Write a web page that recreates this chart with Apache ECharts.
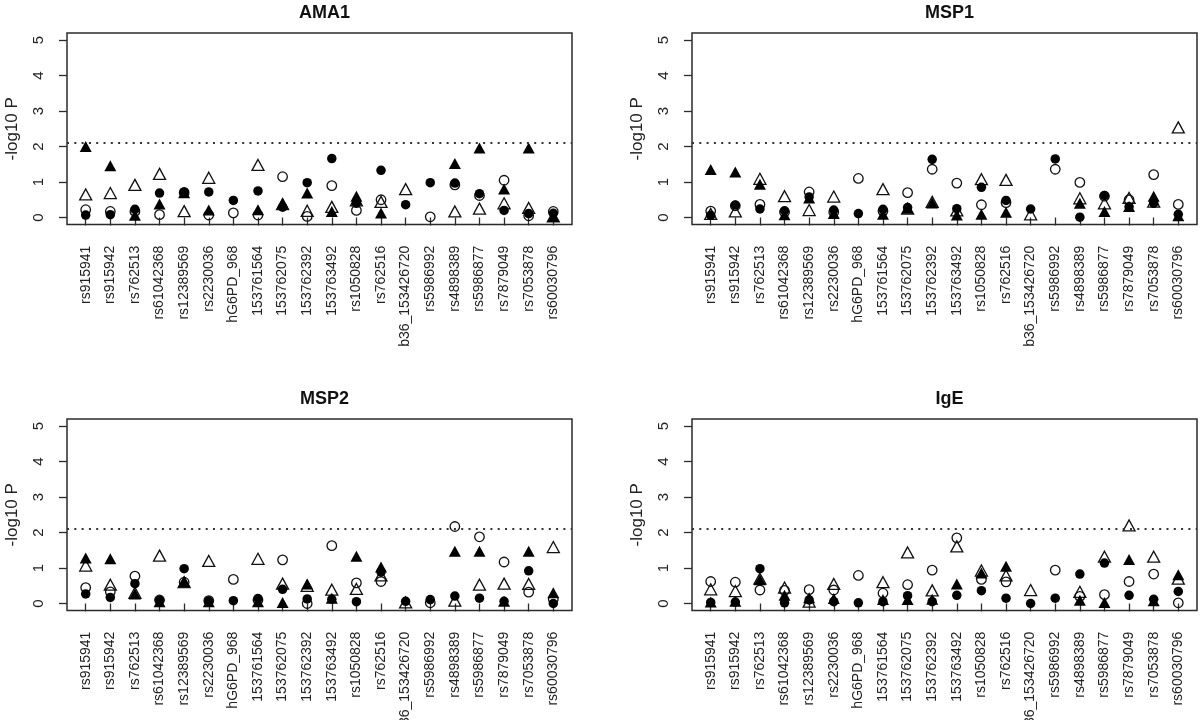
<!DOCTYPE html>
<html>
<head>
<meta charset="utf-8">
<script src="https://cdn.jsdelivr.net/npm/echarts@6/dist/echarts.min.js"></script>
<style>
html,body{margin:0;padding:0;background:#fff;}
#chart{width:1200px;height:720px;}
</style>
</head>
<body>
<div id="chart"></div>
<script>
// ---- data ----
const snps = ["rs915941","rs915942","rs762513","rs61042368","rs12389569","rs2230036","hG6PD_968","153761564","153762075","153762392","153763492","rs1050828","rs762516","b36_153426720","rs5986992","rs4898389","rs5986877","rs7879049","rs7053878","rs60030796"];
const panelTitles = ["AMA1", "MSP1", "MSP2", "IgE"];
const yTicks = [0, 1, 2, 3, 4, 5];
const threshold = 2.1;

const ama1FilledCircle   = [0.07,0.08,0.23,0.69,0.72,0.72,0.48,0.75,0.29,0.98,1.66,0.40,1.33,0.36,0.98,0.97,0.67,0.20,0.11,0.12];
const ama1OpenCircle     = [0.22,0.17,0.17,0.08,0.70,0.07,0.13,0.07,1.15,0.03,0.90,0.20,0.50,null,0.02,0.92,0.62,1.05,0.05,0.17];
const ama1FilledTriangle = [2.00,1.46,0.06,0.38,0.70,0.21,null,0.22,0.40,0.69,0.17,0.60,0.13,null,null,1.52,1.96,0.80,1.96,0.03];
const ama1OpenTriangle   = [0.65,0.69,0.92,1.23,0.18,1.12,null,1.48,0.38,0.19,0.30,0.48,0.44,0.80,null,0.17,0.25,0.40,0.27,0.03];

const msp1FilledCircle   = [0.06,0.35,0.24,0.19,0.58,0.21,0.11,0.23,0.28,1.64,0.25,0.85,0.48,0.24,1.65,0.01,0.62,0.30,0.40,0.09];
const msp1OpenCircle     = [0.18,0.33,0.37,0.15,0.72,0.15,1.10,0.18,0.70,1.36,0.97,0.36,0.42,null,1.36,0.99,0.60,0.50,1.21,0.37];
const msp1FilledTriangle = [1.35,1.28,0.94,0.08,0.55,0.11,null,0.09,0.26,0.41,0.07,0.09,0.15,null,null,0.40,0.17,0.31,0.60,0.05];
const msp1OpenTriangle   = [0.10,0.17,1.09,0.60,0.21,0.59,null,0.80,0.25,0.44,0.20,1.08,1.06,0.09,null,0.54,0.40,0.55,0.45,2.54];

const msp2FilledCircle   = [0.27,0.17,0.56,0.09,0.98,0.07,0.08,0.14,0.40,0.13,0.12,0.05,0.89,0.06,0.11,0.21,0.15,0.06,0.92,0.00];
const msp2OpenCircle     = [0.45,0.33,0.77,0.10,0.60,0.08,0.68,0.10,1.23,0.00,1.63,0.58,0.62,null,0.02,2.17,1.88,1.17,0.32,0.12];
const msp2FilledTriangle = [1.28,1.26,0.27,0.05,0.62,0.05,null,0.05,0.03,0.55,0.15,1.33,1.03,null,null,1.47,1.47,0.06,1.47,0.30];
const msp2OpenTriangle   = [1.07,0.53,0.30,1.35,0.60,1.20,null,1.26,0.56,0.50,0.39,0.41,0.79,0.03,null,0.08,0.53,0.56,0.55,1.59];

const igeFilledCircle    = [0.03,0.04,0.98,0.02,0.10,0.05,0.02,0.05,0.22,0.05,0.23,0.36,0.15,0.00,0.15,0.83,1.14,0.23,0.12,0.34];
const igeOpenCircle      = [0.62,0.60,0.38,0.37,0.39,0.38,0.79,0.29,0.53,0.94,1.85,0.68,0.61,null,0.94,0.20,0.25,0.62,0.83,0.02];
const igeFilledTriangle  = [0.04,0.06,0.67,0.23,0.16,0.14,null,0.11,0.11,0.12,0.55,0.86,1.05,null,null,0.09,0.03,1.24,0.08,0.81];
const igeOpenTriangle    = [0.40,0.35,0.70,0.45,0.05,0.55,null,0.60,1.44,0.37,1.61,0.93,0.79,0.38,null,0.33,1.32,2.20,1.32,0.70];

// ---- chart construction ----
const panels = [
  {title: panelTitles[0], fc: ama1FilledCircle, oc: ama1OpenCircle, ft: ama1FilledTriangle, ot: ama1OpenTriangle},
  {title: panelTitles[1], fc: msp1FilledCircle, oc: msp1OpenCircle, ft: msp1FilledTriangle, ot: msp1OpenTriangle},
  {title: panelTitles[2], fc: msp2FilledCircle, oc: msp2OpenCircle, ft: msp2FilledTriangle, ot: msp2OpenTriangle},
  {title: panelTitles[3], fc: igeFilledCircle,  oc: igeOpenCircle,  ft: igeFilledTriangle,  ot: igeOpenTriangle}
];
const layout = [
  {left: 67,  top: 33},
  {left: 692, top: 33},
  {left: 67,  top: 419},
  {left: 692, top: 419}
];
const gridW = 505, gridH = 191.6;
const FONT = "'Liberation Sans', Arial, Helvetica, sans-serif";
const INK = '#2b2b2b';
const xIdx = snps.map((s, i) => i + 1);
const nCat = snps.length;
const xPad = (nCat - 1) * 0.04;

const option = {
  backgroundColor: '#fff',
  animation: false,
  textStyle: {fontFamily: FONT},
  title: [], grid: [], xAxis: [], yAxis: [], series: []
};

function pts(vals) {
  return vals.map((v, i) => v == null ? null : [i + 1, v]);
}

panels.forEach((p, k) => {
  const L = layout[k];
  option.title.push({
    text: p.title,
    left: L.left + gridW / 2,
    top: L.top - 34,
    textAlign: 'center',
    textStyle: {fontFamily: FONT, fontSize: 18, fontWeight: 'bold', color: '#111'}
  });
  option.grid.push({
    left: L.left, top: L.top, width: gridW, height: gridH,
    containLabel: false, outerBoundsMode: 'none',
    show: true, borderColor: INK, borderWidth: 1.5, backgroundColor: 'transparent'
  });
  option.xAxis.push({
    type: 'value', gridIndex: k,
    min: 1 - xPad, max: nCat + xPad,
    splitLine: {show: false},
    axisLine: {show: false},
    axisTick: {show: true, length: 8, customValues: xIdx, lineStyle: {color: INK, width: 1.3}},
    axisLabel: {
      show: true, customValues: xIdx, rotate: 90, margin: 21,
      fontSize: 14, color: '#222', fontFamily: FONT, hideOverlap: false,
      formatter: v => snps[Math.round(v) - 1] || ''
    }
  });
  option.yAxis.push({
    type: 'value', gridIndex: k,
    min: -0.2, max: 5.2,
    splitLine: {show: false},
    axisLine: {show: false},
    axisTick: {show: true, length: 8, customValues: yTicks, lineStyle: {color: INK, width: 1.3}},
    axisLabel: {
      show: true, customValues: yTicks, rotate: 90, margin: 21,
      fontSize: 15, color: '#222', fontFamily: FONT
    },
    name: '-log10 P', nameLocation: 'middle', nameGap: 46, nameRotate: 90,
    nameTextStyle: {fontSize: 17, color: '#222', fontFamily: FONT}
  });
  const base = {type: 'scatter', xAxisIndex: k, yAxisIndex: k, silent: true};
  option.series.push(Object.assign({}, base, {
    name: p.title + ' open triangle', data: pts(p.ot), symbol: 'triangle', symbolSize: [12, 11],
    itemStyle: {color: 'rgba(0,0,0,0)', borderColor: '#111', borderWidth: 1.3, opacity: 1},
    markLine: {
      silent: true, symbol: 'none', label: {show: false},
      lineStyle: {type: [2, 5.3], color: '#333', width: 2},
      data: [{yAxis: threshold}]
    }
  }));
  option.series.push(Object.assign({}, base, {
    name: p.title + ' open circle', data: pts(p.oc), symbol: 'circle', symbolSize: 9.5,
    itemStyle: {color: 'rgba(0,0,0,0)', borderColor: '#111', borderWidth: 1.3, opacity: 1}
  }));
  option.series.push(Object.assign({}, base, {
    name: p.title + ' filled triangle', data: pts(p.ft), symbol: 'triangle', symbolSize: [12, 11],
    itemStyle: {color: '#000', opacity: 1}
  }));
  option.series.push(Object.assign({}, base, {
    name: p.title + ' filled circle', data: pts(p.fc), symbol: 'circle', symbolSize: 9.5,
    itemStyle: {color: '#000', opacity: 1}
  }));
});

const chart = echarts.init(document.getElementById('chart'), null, {renderer: 'canvas'});
chart.setOption(option);
</script>
</body>
</html>
